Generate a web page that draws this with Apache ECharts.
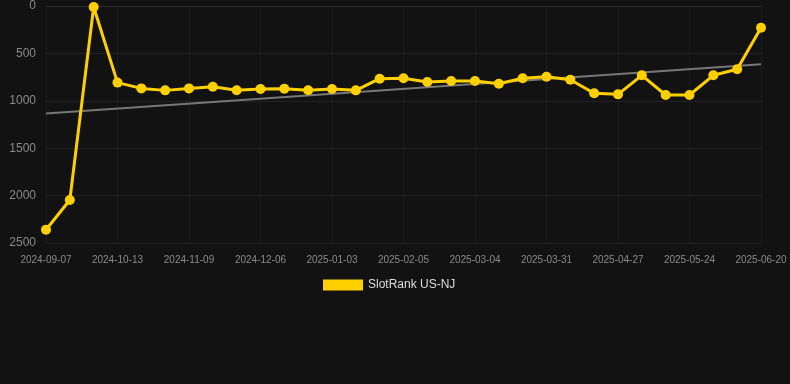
<!DOCTYPE html>
<html><head><meta charset="utf-8">
<script src="https://cdn.jsdelivr.net/npm/echarts@6/dist/echarts.min.js"></script>
<style>html,body{margin:0;padding:0;background:#121212;}#c{width:790px;height:384px;}</style>
</head><body><div id="c"></div>
<script>
const dates = ['2024-09-07','2024-09-19','2024-10-01','2024-10-13','2024-10-22','2024-10-31','2024-11-09','2024-11-18','2024-11-27','2024-12-06','2024-12-15','2024-12-24','2025-01-03','2025-01-14','2025-01-25','2025-02-05','2025-02-14','2025-02-23','2025-03-04','2025-03-13','2025-03-22','2025-03-31','2025-04-09','2025-04-18','2025-04-27','2025-05-06','2025-05-15','2025-05-24','2025-06-02','2025-06-11','2025-06-20'];
const ranks = [2360,2046,10,808,869,890,869,851,889,876,872,889,876,890,767,763,802,791,791,820,763,746,778,921,932,731,939,939,731,668,229];
const yTicks = [0,500,1000,1500,2000,2500];
const seriesName = 'SlotRank US-NJ';

// linear trend computed from the data
const n = ranks.length;
let sx=0, sy=0, sxy=0, sxx=0;
ranks.forEach((v,i)=>{sx+=i;sy+=v;sxy+=i*v;sxx+=i*i;});
const slope = (n*sxy - sx*sy)/(n*sxx - sx*sx);
const icpt = (sy - slope*sx)/n;
const trend = ranks.map((v,i)=> (i===0||i===n-1) ? +(icpt+slope*i).toFixed(1) : null);

const chart = echarts.init(document.getElementById('c'));
chart.setOption({
  backgroundColor:'#121212',
  animation:false,
  grid:{left:46,right:29,top:6,bottom:141},
  legend:{data:[seriesName],top:274,left:318,itemWidth:40,itemHeight:11,itemGap:6,icon:'rect',
    textStyle:{color:'#dddddd',fontSize:12,fontFamily:'Arial, Liberation Sans, sans-serif'}},
  xAxis:{type:'category',data:dates,boundaryGap:false,
    axisLine:{show:true,lineStyle:{color:'#2a2a2a'}},axisTick:{show:false},
    axisLabel:{interval:2,color:'#8a8a8a',fontSize:10,margin:12,fontFamily:'Arial, Liberation Sans, sans-serif'},
    splitLine:{show:true,interval:2,lineStyle:{color:'#1c1c1c'}}},
  yAxis:{type:'value',inverse:true,min:yTicks[0],max:yTicks[yTicks.length-1],interval:500,
    axisLine:{show:false},axisTick:{show:false},
    axisLabel:{color:'#8a8a8a',fontSize:12,margin:10,formatter:v=>String(v),fontFamily:'Arial, Liberation Sans, sans-serif'},
    splitLine:{lineStyle:{color:'#222222'}}},
  series:[
    {name:'trend',type:'line',data:trend,connectNulls:true,symbol:'none',silent:true,
      lineStyle:{color:'#777777',width:2},z:1},
    {name:seriesName,type:'line',data:ranks,symbol:'circle',symbolSize:10,
      itemStyle:{color:'#ffd000'},lineStyle:{color:'#ffd000',width:3},z:2}
  ]
});
</script></body></html>
